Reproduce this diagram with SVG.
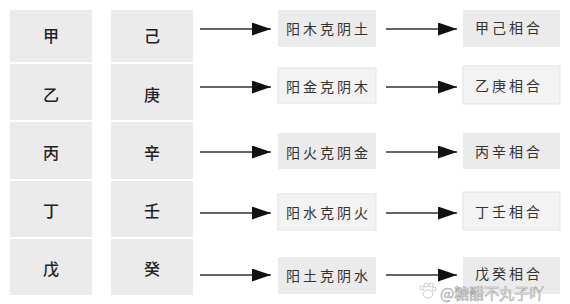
<svg xmlns="http://www.w3.org/2000/svg" width="570" height="304" viewBox="0 0 570 304">
<style>
.cell{fill:#ebebeb}
.mid{fill:#ebebeb}
.lite{fill:#f3f3f3;stroke:#e2e2e2;stroke-width:1}
.stem{font-family:"Noto Sans CJK SC","Noto Sans",sans-serif;font-size:16px;font-weight:500;fill:#222;text-anchor:middle;dominant-baseline:central}
.lbl{font-family:"Noto Sans CJK SC",sans-serif;font-size:14px;fill:#333;letter-spacing:3px;dominant-baseline:central}
.conn line{stroke:#333;stroke-width:1.6}
.wm{font-family:"Noto Sans CJK SC",sans-serif;font-size:15px;fill:#fff;fill-opacity:0.75;stroke:#999;stroke-width:0.7;stroke-opacity:0.8}
</style>
<defs>
<marker id="ah2" viewBox="0 0 10 10" refX="10" refY="5" markerWidth="19" markerHeight="13" markerUnits="userSpaceOnUse" orient="auto" preserveAspectRatio="none">
<path d="M0,0 L10,5 L0,10 z" fill="#111"/>
</marker>
</defs>
<rect width="570" height="304" fill="#fff"/>
<g id="jia"><rect class="cell" x="10" y="10" width="82" height="52"/><text class="stem" x="51" y="35">甲</text></g>
<g id="yi"><rect class="cell" x="10" y="64" width="82" height="56"/><text class="stem" x="51" y="94">乙</text></g>
<g id="bing"><rect class="cell" x="10" y="122" width="82" height="57"/><text class="stem" x="51" y="152">丙</text></g>
<g id="ding"><rect class="cell" x="10" y="181" width="82" height="56"/><text class="stem" x="51" y="210">丁</text></g>
<g id="wu"><rect class="cell" x="10" y="239" width="82" height="56"/><text class="stem" x="51" y="268">戊</text></g>
<g id="ji"><rect class="cell" x="111" y="10" width="82" height="52"/><text class="stem" x="152" y="35">己</text></g>
<g id="geng"><rect class="cell" x="111" y="64" width="82" height="56"/><text class="stem" x="152" y="94">庚</text></g>
<g id="xin"><rect class="cell" x="111" y="122" width="82" height="57"/><text class="stem" x="152" y="152">辛</text></g>
<g id="ren"><rect class="cell" x="111" y="181" width="82" height="56"/><text class="stem" x="152" y="210">壬</text></g>
<g id="gui"><rect class="cell" x="111" y="239" width="82" height="56"/><text class="stem" x="152" y="268">癸</text></g>
<g id="m1"><rect class="mid" x="278" y="10" width="98" height="37"/><text class="lbl" x="286" y="28">阳木克阴土</text></g>
<g id="m2"><rect class="lite" x="278" y="68" width="98" height="35"/><text class="lbl" x="286" y="86">阳金克阴木</text></g>
<g id="m3"><rect class="mid" x="278" y="133" width="98" height="36"/><text class="lbl" x="286" y="152">阳火克阴金</text></g>
<g id="m4"><rect class="lite" x="278" y="194" width="98" height="36"/><text class="lbl" x="286" y="212">阳水克阴火</text></g>
<g id="m5"><rect class="mid" x="278" y="257" width="98" height="37"/><text class="lbl" x="286" y="275">阳土克阴水</text></g>
<g id="r1"><rect class="mid" x="463" y="10" width="97" height="37"/><text class="lbl" x="475" y="27">甲己相合</text></g>
<g id="r2"><rect class="lite" x="463" y="66" width="97" height="38"/><text class="lbl" x="475" y="85">乙庚相合</text></g>
<g id="r3"><rect class="mid" x="463" y="133" width="97" height="36"/><text class="lbl" x="475" y="151">丙辛相合</text></g>
<g id="r4"><rect class="lite" x="463" y="192" width="97" height="38"/><text class="lbl" x="475" y="211">丁壬相合</text></g>
<g id="r5"><rect class="mid" x="463" y="257" width="97" height="37"/><text class="lbl" x="475" y="273">戊癸相合</text></g>
<g class="conn" id="connectors">
<line x1="200" y1="29" x2="271" y2="29" marker-end="url(#ah2)"/>
<line x1="200" y1="87" x2="271" y2="87" marker-end="url(#ah2)"/>
<line x1="200" y1="152" x2="271" y2="152" marker-end="url(#ah2)"/>
<line x1="200" y1="213" x2="271" y2="213" marker-end="url(#ah2)"/>
<line x1="200" y1="275" x2="271" y2="275" marker-end="url(#ah2)"/>
<line x1="386" y1="29" x2="457" y2="29" marker-end="url(#ah2)"/>
<line x1="386" y1="87" x2="457" y2="87" marker-end="url(#ah2)"/>
<line x1="386" y1="152" x2="457" y2="152" marker-end="url(#ah2)"/>
<line x1="386" y1="213" x2="457" y2="213" marker-end="url(#ah2)"/>
<line x1="386" y1="275" x2="457" y2="275" marker-end="url(#ah2)"/>
</g>
<g id="watermark">
<g fill="#fff" fill-opacity="0.8" stroke="#aaa" stroke-width="0.6">
<ellipse cx="428" cy="294" rx="5" ry="4"/>
<circle cx="422" cy="288" r="2"/><circle cx="426" cy="285" r="2"/><circle cx="431" cy="285" r="2"/><circle cx="434" cy="289" r="2"/>
</g>
<text class="wm" x="440" y="299">@糖醋不丸子吖</text>
</g>
</svg>
